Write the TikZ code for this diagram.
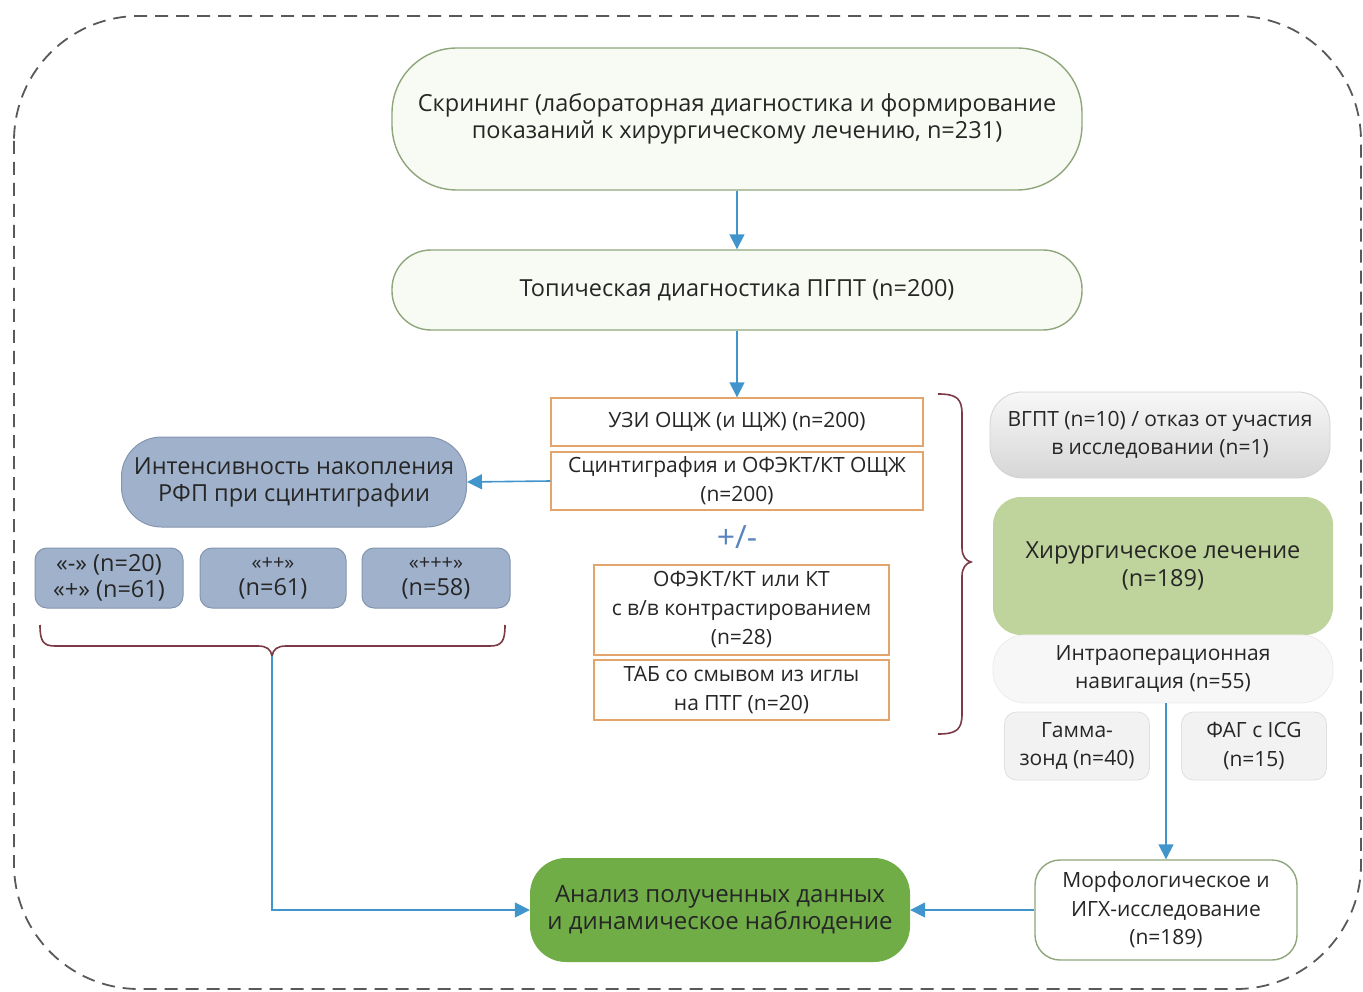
\documentclass[tikz,border=0pt]{standalone}
\usepackage{fontspec}
\setmainfont{Open Sans}
\usetikzlibrary{arrows.meta}
\definecolor{conn}{HTML}{3F95CC}
\definecolor{txt}{HTML}{262626}
\definecolor{pillborder}{HTML}{8FA67C}
\definecolor{pillfill}{HTML}{F8FBF3}
\definecolor{orangeb}{HTML}{E3A56B}
\definecolor{bluefill}{HTML}{A0B2CB}
\definecolor{blueborder}{HTML}{8495AE}
\definecolor{greenlt}{HTML}{BFD49C}
\definecolor{greendk}{HTML}{70AD47}
\definecolor{bracecol}{HTML}{7B3A46}
\definecolor{pmcol}{HTML}{5A84BE}
\begin{document}
\begin{tikzpicture}[x=1pt,y=-1pt,
  base/.style={align=center,text=txt,inner sep=0pt},
  pill/.style={base,draw=pillborder,line width=1.4pt,fill=pillfill,font=\fontsize{23.5}{27}\selectfont},
  obox/.style={base,draw=orangeb,line width=1.4pt,fill=white,font=\fontsize{21}{29}\selectfont},
  bbox/.style={base,draw=blueborder,line width=1pt,fill=bluefill},
  gbox/.style={base,draw=gray!25,line width=0.8pt,fill=gray!10,font=\fontsize{21}{28.5}\selectfont},
  conline/.style={draw=conn,line width=1.6pt},
  conarrow/.style={conline,-{Triangle[length=15pt,width=15pt]}},
  bracestyle/.style={draw=bracecol,line width=1.6pt}
]
\useasboundingbox (0,0) rectangle (1363,992);
% outer dashed frame
\draw[draw=gray!70!black,line width=1.8pt,dash pattern=on 13pt off 8pt,rounded corners=125pt] (14,16) rectangle (1361,989);

% top nodes
\node[pill,minimum width=690pt,minimum height=142pt,rounded corners=65pt] (scr) at (737,119)
  {Скрининг (лабораторная диагностика и формирование\\показаний к хирургическому лечению, n=231)};
\node[pill,minimum width=690pt,minimum height=80pt,rounded corners=39pt] (top) at (737,290)
  {Топическая диагностика ПГПТ (n=200)};

% center column
\node[obox,minimum width=372pt,minimum height=48pt] (uzi) at (737,422) {УЗИ ОЩЖ (и ЩЖ) (n=200)};
\node[obox,minimum width=372pt,minimum height=58pt] (sci) at (737,481) {Сцинтиграфия и ОФЭКТ/КТ ОЩЖ\\(n=200)};
\node[base,text=pmcol,font=\fontsize{32}{34}\selectfont] (pm) at (737,537) {+/-};
\node[obox,minimum width=295pt,minimum height=90pt] (ofe) at (741.5,610) {ОФЭКТ/КТ или КТ\\с в/в контрастированием\\(n=28)};
\node[obox,minimum width=295pt,minimum height=60pt] (tab) at (741.5,690) {ТАБ со смывом из иглы\\на ПТГ (n=20)};

% right brace
\draw[bracestyle] (938,394) .. controls (956,394) and (962,398) .. (962,414) -- (962,548)
  .. controls (962,556) and (966,561) .. (971,562)
  .. controls (966,563) and (962,568) .. (962,576) -- (962,714)
  .. controls (962,730) and (956,734) .. (938,734);
\coordinate (rbt) at (971,562);

% right column
\node[gbox,minimum width=340pt,minimum height=86pt,rounded corners=32pt,top color=gray!6,bottom color=gray!32,draw=gray!35] (vgpt) at (1160,435)
  {ВГПТ (n=10) / отказ от участия\\в исследовании (n=1)};
\node[base,fill=greenlt,minimum width=340pt,minimum height=138pt,rounded corners=28pt,font=\fontsize{23.5}{28}\selectfont] (sur) at (1163,566)
  {Хирургическое лечение\\(n=189)};
\node[gbox,fill=gray!6,draw=gray!15,minimum width=340pt,minimum height=68pt,rounded corners=32pt] (intra) at (1163,669)
  {Интраоперационная\\навигация (n=55)};
\node[gbox,minimum width=145pt,minimum height=68pt,rounded corners=12pt] (gam) at (1077,746) {Гамма-\\зонд (n=40)};
\node[gbox,minimum width=145pt,minimum height=68pt,rounded corners=12pt] (fag) at (1254,746) {ФАГ с ICG\\(n=15)};
\node[base,draw=pillborder,line width=1.4pt,fill=white,minimum width=262pt,minimum height=100pt,rounded corners=25pt,font=\fontsize{21}{28.5}\selectfont] (mor) at (1166,910)
  {Морфологическое и\\ИГХ-исследование\\(n=189)};

% bottom center
\node[base,fill=greendk,minimum width=380pt,minimum height=104pt,rounded corners=36pt,font=\fontsize{24}{27}\selectfont,text=black!85] (ana) at (720,910)
  {Анализ полученных данных\\и динамическое наблюдение};

% left column
\node[bbox,minimum width=345pt,minimum height=90pt,rounded corners=40pt,font=\fontsize{23.5}{27}\selectfont] (int) at (294,482)
  {Интенсивность накопления\\РФП при сцинтиграфии};
\node[bbox,minimum width=148pt,minimum height=60pt,rounded corners=12pt,font=\fontsize{23.5}{26}\selectfont] (s1) at (109,578)
  {«-» (n=20)\\«+» (n=61)};
\node[bbox,minimum width=146pt,minimum height=60pt,rounded corners=12pt,font=\fontsize{23.5}{26}\selectfont] (s2) at (273,578)
  {{\fontsize{20}{20}\selectfont«++»}\\(n=61)};
\node[bbox,minimum width=148pt,minimum height=60pt,rounded corners=12pt,font=\fontsize{23.5}{26}\selectfont] (s3) at (436,578)
  {{\fontsize{20}{20}\selectfont«+++»}\\(n=58)};

% left brace
\draw[bracestyle] (40,625) .. controls (40,641) and (43,646) .. (55,646) -- (258,646)
  .. controls (266,646) and (271,649) .. (272,656)
  .. controls (273,649) and (278,646) .. (286,646) -- (490,646)
  .. controls (502,646) and (505,641) .. (505,625);
\coordinate (lbt) at (272,656);

% connectors
\draw[conarrow] (scr.south) -- (top.north);
\draw[conarrow] (top.south) -- (uzi.north);
\draw[conarrow] (sci.west) -- (int.east);
\draw[conarrow] (intra.south -| mor.north) -- (mor.north);
\draw[conarrow] (mor.west) -- (ana.east);
\draw[conarrow] (lbt) |- (ana.west);
\end{tikzpicture}
\end{document}
